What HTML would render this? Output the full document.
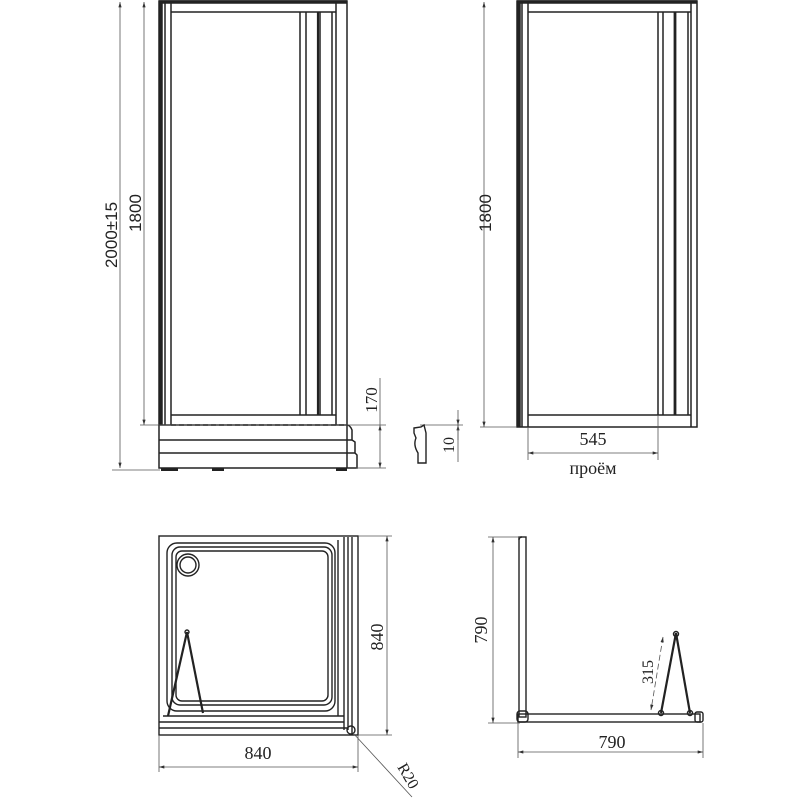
<!DOCTYPE html>
<html><head><meta charset="utf-8"><style>body{margin:0;background:#fff}svg{display:block}</style></head><body>
<svg width="800" height="800" viewBox="0 0 800 800" xmlns="http://www.w3.org/2000/svg" font-family="Liberation Serif, serif" fill="none" stroke="#222">
<defs>
<marker id="a" viewBox="0 0 10 6" refX="10" refY="3" markerWidth="8" markerHeight="4" orient="auto-start-reverse"><path d="M0,0L10,3L0,6z" fill="#333" stroke="none"/></marker>
</defs>
<!-- TOP LEFT -->
<g stroke-width="1.5">
<rect x="159" y="1" width="188" height="424"/>
<line x1="161" y1="1" x2="161" y2="425" stroke-width="3.5"/>
<line x1="165" y1="1" x2="165" y2="425"/>
<line x1="171" y1="1" x2="171" y2="425"/>
<line x1="159" y1="2" x2="347" y2="2" stroke-width="3.5"/>
<line x1="171" y1="12" x2="336" y2="12"/>
<line x1="171" y1="415" x2="336" y2="415"/>
<line x1="300" y1="12" x2="300" y2="415"/>
<line x1="306" y1="12" x2="306" y2="415"/>
<line x1="318" y1="12" x2="318" y2="415" stroke-width="2.2"/>
<line x1="320" y1="12" x2="320" y2="415"/>
<line x1="332" y1="12" x2="332" y2="415"/>
<line x1="336" y1="1" x2="336" y2="425"/>
<line x1="171" y1="425" x2="347" y2="425" stroke-dasharray="5,3"/>
<path d="M159 425V468H357V455L355 453V442L352 440V430Q350 425 347 425"/>
<line x1="159" y1="440" x2="352" y2="440"/>
<line x1="159" y1="453" x2="355" y2="453"/>
<line x1="347" y1="425" x2="347" y2="468"/>
</g>
<rect x="161" y="468" width="17" height="3" fill="#222" stroke="none"/>
<rect x="212" y="468" width="12" height="3" fill="#222" stroke="none"/>
<rect x="336" y="468" width="11" height="3" fill="#222" stroke="none"/>
<g stroke="#555" stroke-width="0.8">
<line x1="120" y1="2" x2="120" y2="468" marker-start="url(#a)" marker-end="url(#a)"/>
<line x1="144" y1="2" x2="144" y2="425" marker-start="url(#a)" marker-end="url(#a)"/>
<line x1="140" y1="425" x2="386" y2="425"/>
<line x1="112" y1="470" x2="160" y2="470"/>
<line x1="380" y1="378" x2="380" y2="425"/>
<line x1="380" y1="425" x2="380" y2="468" marker-start="url(#a)" marker-end="url(#a)"/>
<line x1="356" y1="468" x2="386" y2="468"/>
</g>
<g fill="#222" stroke="none" font-size="17" font-family="Liberation Sans, sans-serif">
<text transform="translate(117,235) rotate(-90)" text-anchor="middle">2000±15</text>
<text transform="translate(141,213) rotate(-90)" text-anchor="middle">1800</text>
<text transform="translate(377,400) rotate(-90)" text-anchor="middle" font-family="Liberation Serif, serif">170</text>
</g>
<!-- TOP RIGHT -->
<g stroke-width="1.5">
<rect x="517" y="1" width="180" height="426"/>
<line x1="519" y1="1" x2="519" y2="427" stroke-width="3.5"/>
<line x1="522" y1="1" x2="522" y2="427"/>
<line x1="528" y1="1" x2="528" y2="427"/>
<line x1="517" y1="2" x2="697" y2="2" stroke-width="3.5"/>
<line x1="528" y1="12" x2="691" y2="12"/>
<line x1="528" y1="415" x2="691" y2="415"/>
<line x1="658" y1="12" x2="658" y2="415"/>
<line x1="663" y1="12" x2="663" y2="415"/>
<line x1="675" y1="12" x2="675" y2="415" stroke-width="2.8"/>
<line x1="688" y1="12" x2="688" y2="415"/>
<line x1="691" y1="1" x2="691" y2="427"/>
</g>
<g stroke="#555" stroke-width="0.8">
<line x1="484" y1="2" x2="484" y2="427" marker-start="url(#a)" marker-end="url(#a)"/>
<line x1="480" y1="427" x2="517" y2="427"/>
<line x1="528" y1="427" x2="528" y2="460"/>
<line x1="658" y1="415" x2="658" y2="460"/>
<line x1="528" y1="453" x2="658" y2="453" marker-start="url(#a)" marker-end="url(#a)"/>
<line x1="458" y1="410" x2="458" y2="425" marker-end="url(#a)"/>
<line x1="458" y1="440" x2="458" y2="425" marker-end="url(#a)"/>
<line x1="420" y1="425" x2="463" y2="425"/>
<line x1="458" y1="425" x2="458" y2="462"/>
</g>
<path d="M414 428L421 427L424 425L426 433V463H418V453Q413 445 416 438L414 433Z" stroke-width="1.4"/>
<g fill="#222" stroke="none" font-size="18">
<text transform="translate(491,213) rotate(-90)" text-anchor="middle" font-family="Liberation Sans, sans-serif" font-size="17">1800</text>
<text x="593" y="445" text-anchor="middle">545</text>
<text x="593" y="474" text-anchor="middle">проём</text>
<text transform="translate(454,445) rotate(-90)" text-anchor="middle" font-size="16">10</text>
</g>
<!-- BOTTOM LEFT -->
<g stroke-width="1.4">
<rect x="159" y="536" width="199" height="199"/>
<rect x="167" y="543" width="168" height="168" rx="10"/>
<rect x="172" y="547" width="160" height="158" rx="8"/>
<rect x="176" y="551" width="152" height="150" rx="6"/>
<circle cx="188" cy="565" r="11"/>
<circle cx="188" cy="565" r="8"/>
<line x1="338" y1="540" x2="338" y2="716"/>
<line x1="344" y1="537" x2="344" y2="730"/>
<line x1="348" y1="537" x2="348" y2="730"/>
<line x1="352" y1="537" x2="352" y2="734"/>
<line x1="163" y1="716" x2="344" y2="716"/>
<line x1="159" y1="722" x2="344" y2="722"/>
<line x1="159" y1="728" x2="348" y2="728"/>
<line x1="187" y1="632" x2="168" y2="716" stroke-width="2.2"/>
<line x1="187" y1="632" x2="203" y2="713" stroke-width="2.2"/>
<circle cx="187" cy="632" r="2"/>
<circle cx="351" cy="730" r="4"/>
</g>
<g stroke="#555" stroke-width="0.8">
<line x1="358" y1="536" x2="392" y2="536"/>
<line x1="358" y1="735" x2="392" y2="735"/>
<line x1="387" y1="536" x2="387" y2="735" marker-start="url(#a)" marker-end="url(#a)"/>
<line x1="159" y1="735" x2="159" y2="772"/>
<line x1="358" y1="735" x2="358" y2="772"/>
<line x1="159" y1="767" x2="358" y2="767" marker-start="url(#a)" marker-end="url(#a)"/>
<line x1="353" y1="733" x2="412" y2="797"/>
</g>
<g fill="#222" stroke="none" font-size="18">
<text x="258" y="759" text-anchor="middle">840</text>
<text transform="translate(383,637) rotate(-90)" text-anchor="middle">840</text>
<text transform="translate(397,767) rotate(60)" font-size="16">R20</text>
</g>
<!-- BOTTOM RIGHT -->
<g stroke-width="1.4">
<rect x="519" y="537" width="7" height="180"/>
<path d="M519 540Q519 537 522 537"/>
<rect x="518" y="714" width="182" height="8"/>
<rect x="517" y="711" width="11" height="11" rx="3"/>
<rect x="695" y="712" width="8" height="10" rx="2"/>
<line x1="676" y1="633" x2="661" y2="713" stroke-width="2.2"/>
<line x1="676" y1="633" x2="690" y2="713" stroke-width="2.2"/>
<circle cx="676" cy="634" r="2.5"/>
<circle cx="661" cy="713" r="2.5"/>
<circle cx="690" cy="713" r="2.5"/>
</g>
<g stroke="#555" stroke-width="0.8">
<line x1="488" y1="537" x2="520" y2="537"/>
<line x1="488" y1="723" x2="520" y2="723"/>
<line x1="493" y1="537" x2="493" y2="723" marker-start="url(#a)" marker-end="url(#a)"/>
<line x1="518" y1="723" x2="518" y2="758"/>
<line x1="703" y1="723" x2="703" y2="758"/>
<line x1="518" y1="752" x2="703" y2="752" marker-start="url(#a)" marker-end="url(#a)"/>
<line x1="663" y1="637" x2="651" y2="710" stroke-dasharray="6,3" marker-start="url(#a)" marker-end="url(#a)"/>
</g>
<g fill="#222" stroke="none" font-size="18">
<text x="612" y="748" text-anchor="middle">790</text>
<text transform="translate(487,630) rotate(-90)" text-anchor="middle">790</text>
<text transform="translate(653,672) rotate(-90)" text-anchor="middle" font-size="16">315</text>
</g>
</svg>
</body></html>
